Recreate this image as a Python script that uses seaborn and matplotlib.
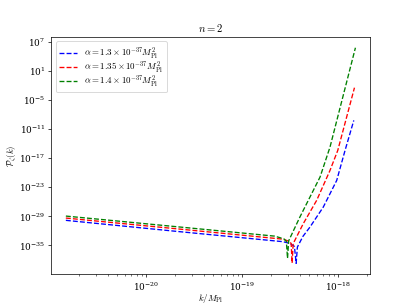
import numpy as np
import pandas as pd
import matplotlib
matplotlib.use('Agg')
import matplotlib.pyplot as plt
import seaborn as sns

plt.rcParams['mathtext.fontset'] = 'cm'
plt.rcParams['font.family'] = 'serif'
plt.rcParams['font.serif'] = ['DejaVu Serif']

# valores (log10 k e log10 P)
logk_13 = [-20.838, -19.707, -18.576, -18.503, -18.455, -18.437, -18.424, -18.366,
           -18.293, -18.154, -18.014, -17.927, -17.836]
logP_13 = [-29.82, -32.05, -34.22, -34.57, -35.19, -38.69, -35.33, -33.12,
           -31.21, -27.08, -21.58, -15.39, -9.21]

logk_135 = [-20.838, -19.707, -18.576, -18.524, -18.489, -18.479, -18.468, -18.363,
            -18.223, -18.084, -18.003, -17.829]
logP_135 = [-29.35, -31.52, -33.70, -34.05, -34.57, -38.63, -34.63, -30.51,
            -25.70, -19.52, -15.39, -2.46]

logk_14 = [-20.838, -19.749, -18.660, -18.565, -18.539, -18.527, -18.515, -18.398,
           -18.293, -18.188, -18.084, -17.819]
logP_14 = [-28.94, -31.01, -33.08, -33.64, -34.15, -37.66, -34.05, -29.14,
           -25.02, -20.90, -14.71, 5.78]

series = [
    (logk_13, logP_13, 'blue', r'$\alpha = 1.3 \times 10^{-37} M_{\rm Pl}^2$'),
    (logk_135, logP_135, 'red', r'$\alpha = 1.35 \times 10^{-37} M_{\rm Pl}^2$'),
    (logk_14, logP_14, 'green', r'$\alpha = 1.4 \times 10^{-37} M_{\rm Pl}^2$'),
]

fig, ax = plt.subplots(figsize=(411 / 64, 308 / 64), dpi=64)
ax.set_xscale('log')
ax.set_yscale('log')

for lk, lp, cor, rotulo in series:
    df = pd.DataFrame({'k': 10.0 ** np.array(lk), 'P': 10.0 ** np.array(lp)})
    sns.lineplot(data=df, x='k', y='P', color=cor, linestyle='--', sort=False,
                 estimator=None, label=rotulo, ax=ax)

ax.set_yticks(10.0 ** np.arange(-35, 8, 6))
ax.yaxis.set_minor_locator(matplotlib.ticker.NullLocator())
ax.set_title(r'$n = 2$')
ax.set_xlabel(r'$k/M_{\rm Pl}$', labelpad=-1)
ax.set_ylabel(r'$\mathcal{P}_\zeta(k)$', labelpad=0)
ax.legend(loc='upper left', labelspacing=-0.2, borderpad=0.4)

plt.savefig('out.png', dpi=64)
